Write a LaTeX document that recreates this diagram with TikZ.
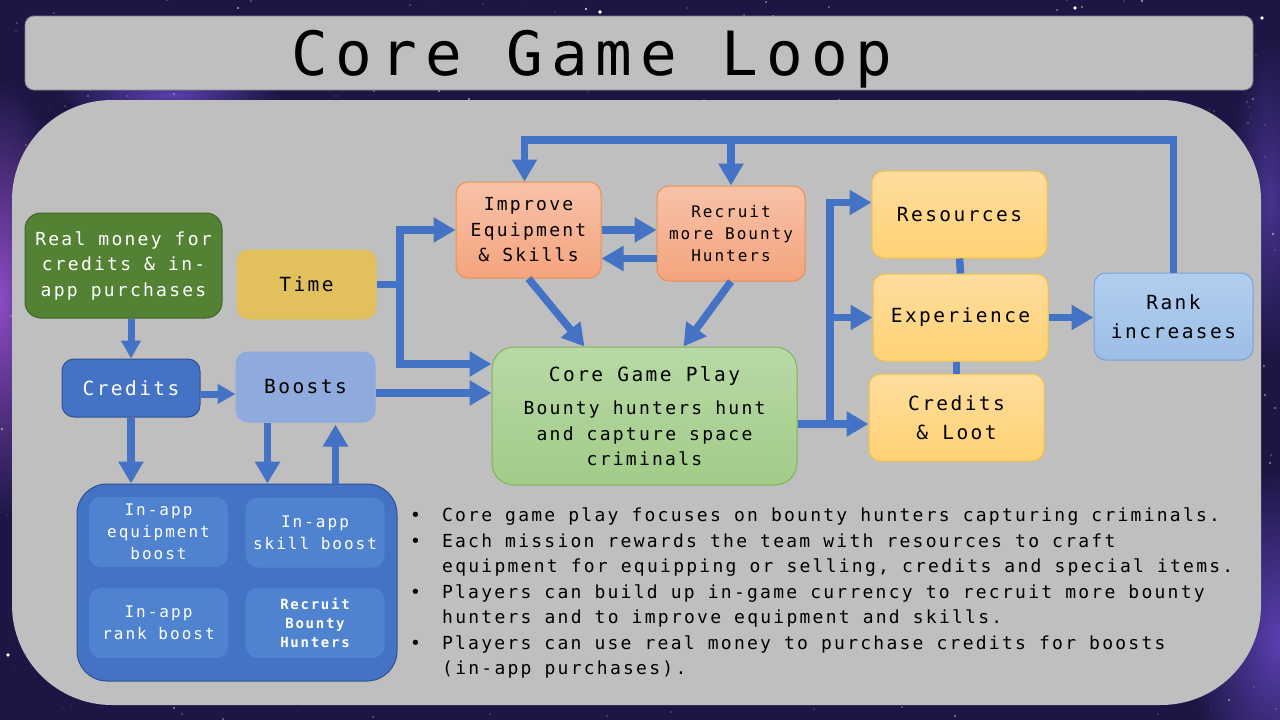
\documentclass[tikz,border=0pt]{standalone}
\usepackage{fontspec}
\newfontfamily\mono[LetterSpace=12.5]{DejaVu Sans Mono}
\newfontfamily\titlefont[LetterSpace=13]{DejaVu Sans Mono}
\newcommand\setfs[2]{\fontsize{#1}{#2}\selectfont}
\usetikzlibrary{arrows.meta,calc}

\definecolor{spacebg}{HTML}{1C1644}
\definecolor{nebula}{HTML}{8C4CC4}
\definecolor{nebulab}{HTML}{5B3FB0}
\definecolor{panelgray}{HTML}{BFBFBF}
\definecolor{titleedge}{HTML}{80808C}
\definecolor{moneygreen}{HTML}{548235}
\definecolor{moneyedge}{HTML}{3F6328}
\definecolor{timegold}{HTML}{E3C05E}
\definecolor{fblue}{HTML}{4472C4}
\definecolor{fbluedk}{HTML}{2F528F}
\definecolor{boostblue}{HTML}{8FAADC}
\definecolor{innerblue}{HTML}{5083CF}
\definecolor{peachtop}{HTML}{F8C2A8}
\definecolor{peachbot}{HTML}{F4A47E}
\definecolor{peachedge}{HTML}{ED8D4F}
\definecolor{greentop}{HTML}{B8D9A5}
\definecolor{greenbot}{HTML}{A2CB88}
\definecolor{greenedge}{HTML}{7DB55A}
\definecolor{yeltop}{HTML}{FFDD9E}
\definecolor{yelbot}{HTML}{FFD274}
\definecolor{yeledge}{HTML}{F5C242}
\definecolor{ranktop}{HTML}{B2CEEE}
\definecolor{rankbot}{HTML}{9CBEE6}
\definecolor{rankedge}{HTML}{77A2D8}

\begin{document}
\begin{tikzpicture}[x=1pt,y=-1pt,
  box/.style={rounded corners=12pt, inner sep=0pt, align=center, line width=1pt},
  f20/.style={font=\mono\setfs{19.5}{29}},
  f18/.style={font=\mono\setfs{18}{25.5}},
  f16/.style={font=\mono\setfs{16}{22}},
  peach/.style={box, top color=peachtop, bottom color=peachbot, draw=peachedge, f18},
  yellow/.style={box, top color=yeltop, bottom color=yelbot, draw=yeledge, f20,
    minimum width=175pt, minimum height=87pt},
  inner/.style={box, fill=innerblue, text=white, f16, minimum width=139pt, minimum height=70pt},
  flow/.style={draw=fblue, line width=7.5pt, line join=miter},
  arr/.style={flow, -{Triangle[length=22pt,width=24pt]}},
  arrs/.style={draw=fblue, line width=7pt, -{Triangle[length=18pt,width=19pt]}},
  bullet/.style={anchor=base west, inner sep=0pt, f18}
]
\useasboundingbox (0,0) rectangle (1280,720);

% starry background
\fill[spacebg] (0,0) rectangle (1280,720);
\shade[inner color=nebula, outer color=spacebg] (0,300) ellipse (70 and 220);
\shade[inner color=nebulab, outer color=spacebg] (1280,640) ellipse (90 and 170);
\shade[inner color=nebulab, outer color=spacebg] (170,95) ellipse (110 and 25);
\shade[inner color=nebulab!70!spacebg, outer color=spacebg] (1270,200) ellipse (40 and 160);
\pgfmathsetseed{11}
\foreach \i in {1,...,900}{
  \pgfmathsetmacro\sx{random(0,1280)}
  \pgfmathsetmacro\sy{random(0,720)}
  \pgfmathsetmacro\sr{0.35+0.7*rnd}
  \pgfmathsetmacro\so{0.35+0.6*rnd}
  \fill[white, opacity=\so] (\sx,\sy) circle (\sr);
}
\foreach \p in {(600,12),(1075,8),(1222,620),(1262,18),(8,655),(1145,688)}{
  \fill[white] \p circle (1.8);
}

% title bar and main panel
\node[box, rounded corners=9pt, fill=panelgray, draw=titleedge, line width=0.8pt,
  minimum width=1228pt, minimum height=74pt] (titlebar) at (639,53) {};
\node[anchor=base, inner sep=0pt, font=\titlefont\setfs{61}{70}] (title) at (592,75) {Core Game Loop};
\fill[panelgray, rounded corners=100pt] (12,100) rectangle (1261,705);

% boxes
\node[box, rounded corners=16pt, fill=moneygreen, draw=moneyedge, text=white, f18,
  minimum width=197pt, minimum height=105pt] (money) at (123.5,265.5)
  {Real money for\\credits \& in-\\app purchases};
\node[box, fill=timegold, draw=timegold, f20, minimum width=139pt, minimum height=69pt]
  (time) at (306.5,284.5) {Time};
\node[box, fill=fblue, draw=fbluedk, text=white, f20, minimum width=138pt, minimum height=58pt]
  (credits) at (131,388) {Credits};
\node[box, fill=boostblue, draw=boostblue, f20, minimum width=139pt, minimum height=70pt]
  (boosts) at (305.5,387) {Boosts};
\node[peach, minimum width=145pt, minimum height=96pt] (improve) at (528.5,230)
  {Improve\\Equipment\\\& Skills};
\node[peach, f16, minimum width=148pt, minimum height=95pt] (recruit) at (731,233.5)
  {Recruit\\more Bounty\\Hunters};
\node[box, rounded corners=22pt, top color=greentop, bottom color=greenbot, draw=greenedge, f18,
  minimum width=305pt, minimum height=138pt] (core) at (644.5,416)
  {{\setfs{19.5}{29}Core Game Play}\\[8pt]Bounty hunters hunt\\and capture space\\criminals};
\node[yellow] (resources) at (959.5,214.5) {Resources};
\node[yellow] (experience) at (960.5,317.5) {Experience};
\node[yellow] (loot) at (956.5,417.5) {Credits\\\& Loot};
\node[box, top color=ranktop, bottom color=rankbot, draw=rankedge, f20,
  minimum width=159pt, minimum height=87pt] (rank) at (1173.5,316.5) {Rank\\increases};

% in-app boost container
\node[box, rounded corners=30pt, fill=fblue, draw=fbluedk, minimum width=320pt, minimum height=197pt]
  (container) at (237,582.5) {};
\node[inner] (equip) at (158.5,532) {In-app\\equipment\\boost};
\node[inner] (skill) at (315,532.5) {In-app\\skill boost};
\node[inner] (rankboost) at (158.5,623) {In-app\\rank boost};
\node[inner, font=\mono\bfseries\setfs{14}{19}] (hire) at (315,623) {Recruit\\Bounty\\Hunters};

% connectors
\draw[arrs] (money.south -| credits.north) -- (credits.north);
\coordinate (cb) at ([yshift=-6pt]credits.east);
\draw[arrs] (cb) -- (cb -| boosts.west);
\draw[arr] (credits.south) -- (credits.south |- container.north);
\coordinate (bd) at ([xshift=-38pt]boosts.south);
\draw[arr] (bd) -- (bd |- container.north);
\coordinate (bu) at ([xshift=30pt]boosts.south);
\draw[arr] (bu |- container.north) -- ([yshift=-2pt]bu);

\coordinate (tx) at (400,0);
\coordinate (tc) at ([yshift=52pt]core.west);
\draw[arr] (time.east) -- (time.east -| tx) |- (improve.west);
\draw[arr] (time.east -| tx) |- (tc);
\coordinate (bc) at ([yshift=-6pt]boosts.east);
\draw[arr] (bc) -- (bc -| core.west);

\draw[arr] (improve.east) -- (improve.east -| recruit.west);
\coordinate (ri) at ([yshift=-25pt]recruit.west);
\draw[arr] (ri) -- (ri -| improve.east);
\draw[arr] (improve.south) -- ([xshift=-60pt]core.north);
\draw[arr] (recruit.south) -- ([xshift=39pt]core.north);

\coordinate (cj) at ([yshift=-8pt]core.east);
\coordinate (bx) at (830,0);
\draw[arr] (cj) -- (cj -| loot.west);
\draw[arr] (cj -| bx) |- ([yshift=12pt]resources.west);
\draw[arr] (cj -| bx) |- (experience.west);

\draw[flow] (resources.south) -- (experience.north);
\draw[flow] (loot.north) -- (loot.north |- experience.south);
\draw[arr] (experience.east) -- (experience.east -| rank.west);

\coordinate (loop) at (0,140);
\coordinate (imin) at ([xshift=-4pt]improve.north);
\draw[arr] (rank.north) -- (rank.north |- loop) -- (imin |- loop) -- (imin);
\draw[arr] (recruit.north |- loop) -- (recruit.north);

% notes
\node[bullet] (n1) at (410,521) {•\hspace{21pt}Core game play focuses on bounty hunters capturing criminals.};
\node[bullet] (n2) at (410,547) {•\hspace{21pt}Each mission rewards the team with resources to craft};
\node[bullet] (n3) at (442,572) {equipment for equipping or selling, credits and special items.};
\node[bullet] (n4) at (410,598) {•\hspace{21pt}Players can build up in-game currency to recruit more bounty};
\node[bullet] (n5) at (442,623) {hunters and to improve equipment and skills.};
\node[bullet] (n6) at (410,649) {•\hspace{21pt}Players can use real money to purchase credits for boosts};
\node[bullet] (n7) at (442,674) {(in-app purchases).};
\end{tikzpicture}
\end{document}
